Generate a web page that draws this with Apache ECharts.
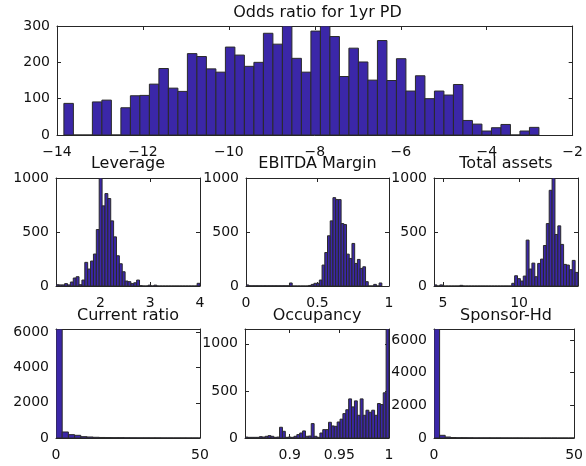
<!DOCTYPE html>
<html>
<head>
<meta charset="utf-8">
<script src="https://cdn.jsdelivr.net/npm/echarts@6/dist/echarts.min.js"></script>
<style>
html, body { margin: 0; padding: 0; background: #fff; }
#chart { width: 586px; height: 466px; }
</style>
</head>
<body>
<div id="chart"></div>
<script>
// bin counts
var oddsCounts = [87, 0, 0, 91, 96, 0, 75, 108, 109, 140, 183, 129, 120, 224, 216, 182, 173, 242, 220, 189, 200, 280, 250, 302, 211,
    173, 286, 300, 271, 161, 239, 201, 151, 260, 150, 210, 121, 163, 100, 121, 110, 139, 40, 30, 11, 20, 29, 0, 11, 21];
var leverageCounts = [12, 10, 10, 22, 10, 37, 74, 86, 12, 55, 219, 157, 231, 296, 523, 1000, 742, 856, 810, 603, 455, 280, 206, 132, 46,
    40, 22, 30, 55, 3, 0, 0, 8, 0, 8, 0, 0, 0, 0, 0, 0, 0, 0, 0, 0, 0, 0, 0, 0, 25];
var ebitdaCounts = [10, 2, 2, 2, 2, 2, 2, 2, 2, 2, 2, 2, 2, 2, 2, 2, 28, 0, 0, 0, 0, 0, 0, 5, 15,
    25, 25, 55, 194, 310, 465, 603, 818, 800, 800, 578, 569, 295, 255, 394, 209, 246, 163, 178, 40, 0, 0, 15, 0, 28];
var assetsCounts = [10, 0, 10, 0, 0, 0, 0, 0, 0, 6, 0, 0, 0, 0, 0, 0, 0, 0, 0, 0, 0, 0, 0, 0, 0,
    0, 0, 25, 95, 68, 46, 92, 425, 157, 212, 86, 209, 249, 375, 578, 886, 1000, 477, 557, 385, 200, 194, 151, 237, 126];
var currentCounts = [6190, 342, 190, 152, 76, 57, 40, 30, 25, 20, 20, 15, 12, 10, 10, 8, 8, 6, 6, 5, 5, 4, 4, 3];
var occupancyCounts = [10, 7, 7, 7, 7, 14, 10, 18, 25, 18, 7, 10, 114, 71, 7, 10, 7, 18, 36, 53, 75, 18, 21, 153, 18,
    7, 53, 89, 89, 167, 128, 124, 170, 200, 259, 300, 415, 330, 394, 241, 415, 241, 295, 273, 295, 241, 366, 355, 480, 1157];
var sponsorCounts = [6680, 164, 60, 30, 20, 20, 15, 10, 10, 10, 8, 8, 6, 5, 5, 4, 3, 3, 2, 2, 2, 2, 1, 1, 1];

// [first bin edge, bin width]
var oddsBins = [-13.84, 0.2211];
var leverageBins = [1.106, 0.05788];
var ebitdaBins = [0, 0.019];
var assetsBins = [4.41, 0.1892];
var currentBins = [0, 2.15];
var occupancyBins = [0.855, 0.0029];
var sponsorBins = [0, 2.0];

// tick values
var oddsXTicks = [-14, -12, -10, -8, -6, -4, -2];
var oddsYTicks = [0, 100, 200, 300];
var leverageXTicks = [2, 3, 4];
var ebitdaXTicks = [0, 0.5, 1];
var assetsXTicks = [5, 10];
var midYTicks = [0, 500, 1000];
var ratioXTicks = [0, 50];
var ratioYTicks = [0, 2000, 4000, 6000];
var occupancyXTicks = [0.9, 0.95, 1];

var FONT = '"DejaVu Sans", sans-serif';
var BAR = '#3B27A8';
var EDGE = '#2a2a2a';
var AXIS = '#262626';

var panels = [
    { title: 'Odds ratio for 1yr PD', counts: oddsCounts, bins: oddsBins, x: [-14, -2], yMax: 300, xt: oddsXTicks, yt: oddsYTicks, box: [57, 26, 521, 109], ty: 13 },
    { title: 'Leverage', counts: leverageCounts, bins: leverageBins, x: [1.106, 4], yMax: 1000, xt: leverageXTicks, yt: midYTicks, box: [56, 178, 144, 108], ty: 164 },
    { title: 'EBITDA Margin', counts: ebitdaCounts, bins: ebitdaBins, x: [0, 1], yMax: 1000, xt: ebitdaXTicks, yt: midYTicks, box: [246, 178, 143, 108], ty: 164 },
    { title: 'Total assets', counts: assetsCounts, bins: assetsBins, x: [4.41, 13.87], yMax: 1000, xt: assetsXTicks, yt: midYTicks, box: [434, 178, 144, 108], ty: 164 },
    { title: 'Current ratio', counts: currentCounts, bins: currentBins, x: [0, 50], yMax: 6190, xt: ratioXTicks, yt: ratioYTicks, box: [56, 329, 144, 109], ty: 316 },
    { title: 'Occupancy', counts: occupancyCounts, bins: occupancyBins, x: [0.855, 1.0], yMax: 1157, xt: occupancyXTicks, yt: midYTicks, box: [245, 329, 144, 109], ty: 316 },
    { title: 'Sponsor-Hd', counts: sponsorCounts, bins: sponsorBins, x: [0, 50], yMax: 6680, xt: ratioXTicks, yt: ratioYTicks, box: [434, 329, 144, 109], ty: 316 }
];

function fmt(v) {
    return String(v).replace('-', '\u2212');
}

function renderBar(params, api) {
    var top = api.coord([api.value(0), api.value(2)]);
    var bottom = api.coord([api.value(1), 0]);
    var rect = echarts.graphic.clipRectByRect({
        x: top[0], y: top[1], width: bottom[0] - top[0], height: bottom[1] - top[1]
    }, params.coordSys);
    return rect && {
        type: 'rect',
        shape: rect,
        style: { fill: BAR, stroke: EDGE, lineWidth: 1 }
    };
}

var myChart = echarts.init(document.getElementById('chart'));
var option = { animation: false, backgroundColor: '#fff', grid: [], xAxis: [], yAxis: [], series: [], graphic: [] };

panels.forEach(function (p, i) {
    var line = { show: true, onZero: false, lineStyle: { color: AXIS, width: 1 } };
    option.grid.push({ left: p.box[0], top: p.box[1], width: p.box[2], height: p.box[3] });
    ['bottom', 'top'].forEach(function (pos) {
        option.xAxis.push({
            gridIndex: i, type: 'value', position: pos, min: p.x[0], max: p.x[1],
            axisLine: line,
            axisTick: { show: true, inside: true, length: 4, customValues: p.xt, lineStyle: { color: AXIS } },
            axisLabel: {
                show: pos === 'bottom', customValues: p.xt, formatter: fmt,
                color: '#111', fontSize: 14, fontFamily: FONT, margin: 10
            },
            splitLine: { show: false }
        });
    });
    ['left', 'right'].forEach(function (pos) {
        option.yAxis.push({
            gridIndex: i, type: 'value', position: pos, min: 0, max: p.yMax,
            axisLine: line,
            axisTick: { show: true, inside: true, length: 4, customValues: p.yt, lineStyle: { color: AXIS } },
            axisLabel: {
                show: pos === 'left', customValues: p.yt, formatter: fmt,
                color: '#111', fontSize: 14, fontFamily: FONT, margin: 7
            },
            splitLine: { show: false }
        });
    });
    option.series.push({
        type: 'custom',
        xAxisIndex: 2 * i,
        yAxisIndex: 2 * i,
        renderItem: renderBar,
        clip: true,
        data: p.counts.map(function (c, k) {
            return [p.bins[0] + k * p.bins[1], p.bins[0] + (k + 1) * p.bins[1], c];
        })
    });
    option.graphic.push({
        type: 'text',
        x: p.box[0] + p.box[2] / 2,
        y: p.ty,
        style: {
            text: p.title, fill: '#111', font: '16px ' + FONT,
            align: 'center', verticalAlign: 'middle'
        }
    });
});

myChart.setOption(option);
</script>
</body>
</html>
